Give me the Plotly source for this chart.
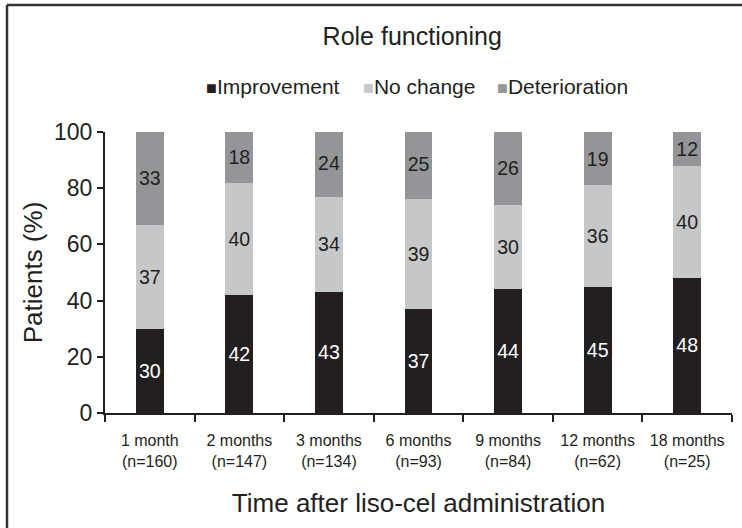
import plotly.graph_objects as go

timepoints = ["1 month<br>(n=160)", "2 months<br>(n=147)", "3 months<br>(n=134)",
              "6 months<br>(n=93)", "9 months<br>(n=84)", "12 months<br>(n=62)",
              "18 months<br>(n=25)"]
improvement = [30, 42, 43, 37, 44, 45, 48]
no_change = [37, 40, 34, 39, 30, 36, 40]
deterioration = [33, 18, 24, 25, 26, 19, 12]

FONT = "Liberation Sans, Arial, sans-serif"
INK = "#231f20"

series = [
    ("Improvement", improvement, "#231f20", "white"),
    ("No change", no_change, "#c6c7c9", INK),
    ("Deterioration", deterioration, "#939598", INK),
]

# plot area in pixels: x 105..732, y 132 (100%) .. 413 (0%)
def px_x(p):
    return (p - 105) / 627

def px_y(p):
    return (413 - p) / 281

fig = go.Figure()
for name, vals, color, txtcolor in series:
    fig.add_trace(go.Bar(
        name=name, x=timepoints, y=vals, marker_color=color, marker_line_width=0,
        text=vals, textposition="inside", insidetextanchor="middle", textangle=0,
        textfont=dict(size=20, color=txtcolor, family=FONT),
    ))

# legend drawn as a row of text entries with square keys
legend_left = [204, 361, 495]
for (name, _, color, _), left in zip(series, legend_left):
    fig.add_annotation(
        x=px_x(left), y=px_y(87), xref="paper", yref="paper", xanchor="left", yanchor="middle",
        showarrow=False, font=dict(size=21, color=INK),
        text=f"<span style='font-size:18px;color:{color}'>■</span>{name}",
    )

fig.update_layout(
    width=742, height=528,
    barmode="stack", bargap=0.69,
    plot_bgcolor="white", paper_bgcolor="white",
    font=dict(family=FONT, color=INK),
    margin=dict(l=105, r=10, t=132, b=115),
    title=dict(text="Role functioning", x=0.49, xref="paper", xanchor="center",
               y=1 - 36 / 528, yanchor="middle", font=dict(size=25)),
    uniformtext=dict(mode="show", minsize=10),
    showlegend=False,
)
fig.update_xaxes(
    showline=True, linecolor=INK, linewidth=2, ticks="outside", tickson="boundaries",
    ticklen=7, tickwidth=2, tickcolor=INK, tickfont=dict(size=16), ticklabelstandoff=12,
    title=dict(text="Time after liso-cel administration", font=dict(size=26), standoff=25),
)
fig.update_yaxes(
    range=[0, 100], dtick=20, showline=True, linecolor=INK, linewidth=2,
    ticks="outside", ticklen=6, tickwidth=2, tickcolor=INK, showgrid=False,
    zeroline=False, tickfont=dict(size=23),
    title=dict(text="Patients (%)", font=dict(size=26), standoff=4),
)

# frame around the figure (top and left edges visible)
fig.add_shape(type="line", xref="paper", yref="paper",
              x0=px_x(7), x1=px_x(742), y0=px_y(5), y1=px_y(5),
              line=dict(color="#333333", width=2.5))
fig.add_shape(type="line", xref="paper", yref="paper",
              x0=px_x(7), x1=px_x(7), y0=px_y(5), y1=px_y(528),
              line=dict(color="#333333", width=2.5))

fig.write_html("out.html", config={"displayModeBar": False},
               post_script="document.body.style.margin='0';")
